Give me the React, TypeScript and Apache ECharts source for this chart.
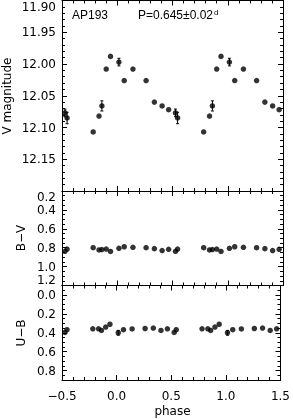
import React, { useEffect, useRef } from 'react';
import * as echarts from 'echarts';

// Base phases (folded); each point is plotted at phase and phase + 1
const phases = [-0.473, -0.454, -0.218, -0.165, -0.139, -0.100, -0.061, 0.015, 0.063, 0.142, 0.261, 0.336, 0.406, 0.465];
const vMag = [12.077, 12.085, 12.107, 12.082, 12.066, 12.008, 11.988, 11.997, 12.026, 12.008, 12.026, 12.060, 12.066, 12.072];
const vErr = [0.006, 0.009, 0, 0, 0.008, 0, 0, 0.006, 0, 0, 0, 0, 0, 0];
const bvCol = [0.838, 0.814, 0.800, 0.824, 0.820, 0.814, 0.840, 0.806, 0.790, 0.796, 0.800, 0.810, 0.830, 0.817];
const bvErr = [0, 0, 0, 0, 0, 0, 0, 0, 0, 0, 0, 0, 0, 0];
const ubCol = [0.397, 0.368, 0.358, 0.358, 0.376, 0.340, 0.310, 0.400, 0.368, 0.360, 0.355, 0.350, 0.376, 0.358];
const ubErr = [0, 0, 0, 0, 0, 0, 0, 0.025, 0, 0, 0, 0, 0, 0];

const xTicks = [-0.5, 0.0, 0.5, 1.0, 1.5];
const ubTickLabels = [0.0, 0.2, 0.4, 0.6, 0.8];

const starName = 'AP193';
const periodText = 'P=0.645±0.02';
const periodUnit = 'd';

const FONT = 'DejaVu Sans';
const TITLE_FONT = 'Liberation Sans';

function folded(values: number[]) {
  const out: number[][] = [];
  for (let k = 0; k < 2; k++) {
    phases.forEach((p, i) => out.push([p + k, values[i]]));
  }
  return out;
}
function foldedErr(values: number[], errs: number[]) {
  const out: number[][] = [];
  for (let k = 0; k < 2; k++) {
    phases.forEach((p, i) => {
      if (errs[i] > 0) out.push([p + k, values[i], errs[i]]);
    });
  }
  return out;
}

export default function App() {
  const ref = useRef<HTMLDivElement>(null);
  useEffect(() => {
    const chart = echarts.init(ref.current!, null, { renderer: 'svg' });
    const L = 62, R = 10;
    const grids = [
      { left: L, right: R, top: 0.5, height: 190.5 },
      { left: L, right: R, top: 191, height: 94.5 },
      { left: L, right: R, top: 285.5, height: 94.5 },
    ];
    const line = { show: true, onZero: false, lineStyle: { color: '#000', width: 1 } };
    const tick = { show: true, inside: true, length: 5, lineStyle: { color: '#000', width: 1 } };
    const minor = (n: number) => ({ show: true, splitNumber: n, length: 3, lineStyle: { color: '#000', width: 1 } });
    const lbl = { color: '#000', fontFamily: FONT, fontSize: 12 };

    const xAxes: any[] = [];
    for (let g = 0; g < 3; g++) {
      for (const pos of ['bottom', 'top']) {
        xAxes.push({
          type: 'value', gridIndex: g, position: pos, min: -0.5, max: 1.5, interval: 0.5,
          axisLine: line, axisTick: tick, minorTick: minor(5), splitLine: { show: false },
          axisLabel: {
            show: g === 2 && pos === 'bottom', margin: 10, ...lbl,
            customValues: xTicks,
            formatter: (v: number) => v.toFixed(1).replace('-', '\u2212'),
          },
        });
      }
    }

    const yAxes: any[] = [];
    // top panel: V
    for (const pos of ['left', 'right']) {
      yAxes.push({
        type: 'value', gridIndex: 0, position: pos, min: 11.9, max: 12.2, interval: 0.05, inverse: true,
        axisLine: line, axisTick: tick, minorTick: minor(5), splitLine: { show: false },
        axisLabel: {
          show: pos === 'left', margin: 6, ...lbl, showMaxLabel: false, verticalAlignMinLabel: 'top',
          formatter: (v: number) => v.toFixed(2),
        },
      });
    }
    // middle: B-V
    for (const pos of ['left', 'right']) {
      yAxes.push({
        type: 'value', gridIndex: 1, position: pos, min: 0.2, max: 1.2, interval: 0.2, inverse: true,
        axisLine: line, axisTick: tick, minorTick: minor(4), splitLine: { show: false },
        axisLabel: {
          show: pos === 'left', margin: 6, ...lbl,
          verticalAlignMinLabel: 'top', verticalAlignMaxLabel: 'bottom',
          formatter: (v: number) => v.toFixed(1),
        },
      });
    }
    // bottom: U-B (major)
    for (const pos of ['left', 'right']) {
      yAxes.push({
        type: 'value', gridIndex: 2, position: pos, min: -0.1, max: 0.9, interval: 0.05, inverse: true,
        axisLine: line,
        axisTick: { ...tick, customValues: ubTickLabels },
        minorTick: { show: false }, splitLine: { show: false },
        axisLabel: {
          show: pos === 'left', margin: 6, ...lbl, customValues: ubTickLabels,
          formatter: (v: number) => {
            const k = Math.round(v * 100);
            return k >= 0 && k <= 80 && k % 20 === 0 ? v.toFixed(1) : '';
          },
        },
      });
    }
    // bottom: U-B (minor ticks)
    for (const pos of ['left', 'right']) {
      yAxes.push({
        type: 'value', gridIndex: 2, position: pos, min: -0.1, max: 0.9, interval: 0.05, inverse: true,
        axisLine: { show: false, onZero: false }, axisTick: { ...tick, length: 3 }, axisLabel: { show: false },
        minorTick: { show: false }, splitLine: { show: false },
      });
    }

    const scatter = (data: number[][], xi: number, yi: number) => ({
      type: 'scatter', xAxisIndex: xi, yAxisIndex: yi, data, symbol: 'circle', symbolSize: 5.5,
      itemStyle: { color: '#000' }, z: 3, silent: true,
    });
    const errBars = (data: number[][], xi: number, yi: number) => ({
      type: 'custom', xAxisIndex: xi, yAxisIndex: yi, data, z: 2, silent: true,
      encode: { x: 0, y: 1 },
      renderItem: (params: any, api: any) => {
        const x = api.value(0), y = api.value(1), e = api.value(2);
        const a = api.coord([x, y - e]);
        const b = api.coord([x, y + e]);
        const w = 1.5;
        const st = { stroke: '#000', lineWidth: 1 };
        return {
          type: 'group',
          children: [
            { type: 'line', shape: { x1: a[0], y1: a[1], x2: b[0], y2: b[1] }, style: st },
            { type: 'line', shape: { x1: a[0] - w, y1: a[1], x2: a[0] + w, y2: a[1] }, style: st },
            { type: 'line', shape: { x1: b[0] - w, y1: b[1], x2: b[0] + w, y2: b[1] }, style: st },
          ],
        };
      },
    });

    const txt = (text: string, x: number, y: number, rot = 0, extra: any = {}) => ({
      type: 'text', x, y, rotation: rot, silent: true,
      style: { text, fill: '#000', font: `12px "${FONT}"`, align: 'center', verticalAlign: 'middle', ...extra },
    });

    const option: any = {
      animation: false,
      grid: grids,
      xAxis: xAxes,
      yAxis: yAxes,
      series: [
        errBars(foldedErr(vMag, vErr), 0, 0),
        scatter(folded(vMag), 0, 0),
        errBars(foldedErr(bvCol, bvErr), 2, 2),
        scatter(folded(bvCol), 2, 2),
        errBars(foldedErr(ubCol, ubErr), 4, 4),
        scatter(folded(ubCol), 4, 4),
      ],
      graphic: [
        txt('V magnitude', 7, 96, Math.PI / 2),
        txt('B\u2212V', 21, 238, Math.PI / 2),
        txt('U\u2212B', 21, 333, Math.PI / 2),
        txt('phase', 172.5, 411),
        {
          type: 'text', x: 72, y: 15, silent: true,
          style: { text: starName, fill: '#000', font: `12px "${TITLE_FONT}"`, align: 'left', verticalAlign: 'middle' },
        },
        {
          type: 'text', x: 138, y: 15, silent: true,
          style: {
            text: `{m|${periodText}}{s|${periodUnit}}`, fill: '#000', align: 'left', verticalAlign: 'middle',
            rich: {
              m: { fontFamily: TITLE_FONT, fontSize: 12, fill: '#000' },
              s: { fontFamily: TITLE_FONT, fontSize: 8, fill: '#000', verticalAlign: 'top', padding: [0, 0, 6, 1] },
            },
          },
        },
      ],
    };
    chart.setOption(option);
    return () => chart.dispose();
  }, []);
  return <div ref={ref} style={{ position: 'fixed', left: 0, top: 0, width: 293, height: 419 }} />;
}
